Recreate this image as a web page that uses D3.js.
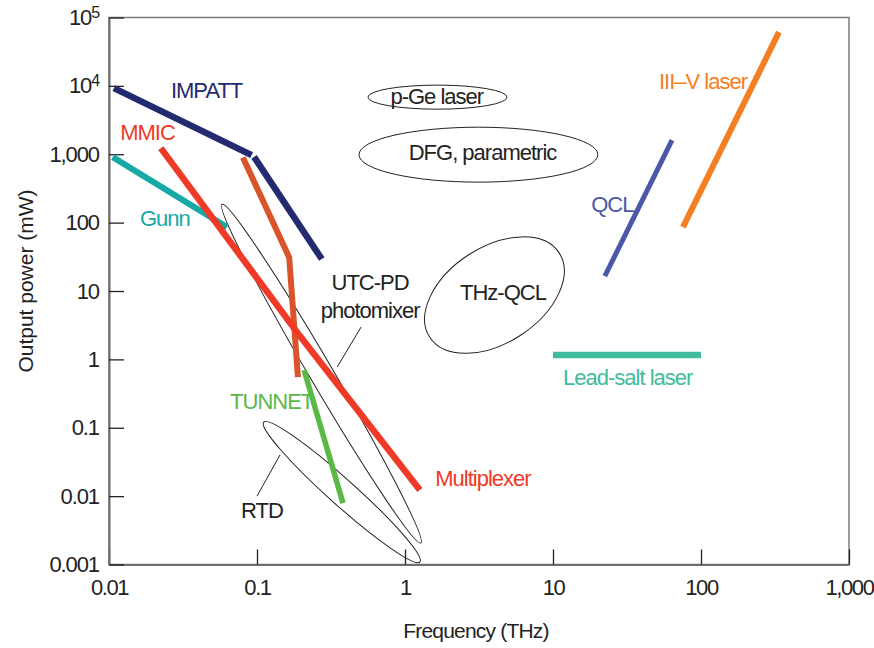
<!DOCTYPE html>
<html>
<head>
<meta charset="utf-8">
<script src="https://cdn.jsdelivr.net/npm/d3@7"></script>
<style>
  body { margin: 0; background: #fff; }
  svg text { font-family: "Liberation Sans", Arial, Helvetica, sans-serif; }
</style>
</head>
<body>
<div id="chart-area"></div>
<script>
// tick values and labels
var xTicks = [0.01, 0.1, 1, 10, 100, 1000]
var xTickLabels = ["0.01", "0.1", "1", "10", "100", "1,000"]
var yTicks = [0.001, 0.01, 0.1, 1, 10, 100, 1000, 1e4, 1e5]
var yTickLabels = ["0.001", "0.01", "0.1", "1", "10", "100", "1,000", "10^4", "10^5"]

// source lines, [frequency THz, power mW]
var impattA = [[0.0108, 9250], [0.092, 970]]
var impattB = [[0.0955, 916], [0.274, 29.3]]
var mmic = [[0.0224, 1228], [0.195, 2.19], [1.26, 0.0123]]
var gunn = [[0.0106, 908], [0.0627, 86]]
var photodiode = [[0.0803, 898], [0.165, 31], [0.189, 0.55]]
var tunnet = [[0.208, 0.698], [0.381, 0.0079]]
var qcl = [[22.4, 16.5], [63.7, 1607]]
var threeFive = [[75.5, 86], [336, 61000]]
var leadSalt = [[10, 1.16], [100, 1.16]]

// regions drawn as ellipses: ends of the long axis + short/long ratio
var regionNames = ["p-Ge", "DFG", "THz-QCL", "UTC-PD", "RTD"]
var regionEnds = [
  [[0.562, 6840], [4.89, 6840]],
  [[0.489, 986], [20.1, 986]],
  [[1.47, 2.10], [11.0, 36.1]],
  [[0.058, 186], [1.28, 0.00206]],
  [[0.111, 0.121], [1.26, 0.00109]]
]
var regionRatio = [0.173, 0.23, 0.62, 0.06, 0.125]

// leader lines
var leaders = [
  [[0.505, 2.97], [0.348, 0.77]],
  [[0.143, 0.040], [0.1, 0.01]]
]

// labels
var labelText = ["IMPATT", "MMIC", "Gunn", "UTC-PD", "photomixer", "p-Ge laser", "DFG, parametric",
  "THz-QCL", "QCL", "III\u2013V laser", "Lead-salt laser", "TUNNET", "Multiplexer", "RTD"]
var labelPos = [[0.0262, 6610], [0.0119, 1607], [0.0162, 89], [0.581, 10.3], [0.581, 4.02],
  [1.64, 5400], [3.34, 820], [4.59, 7.36], [18.1, 142], [52, 8950], [11.7, 0.42],
  [0.0658, 0.1875], [1.6, 0.0141], [0.078, 0.0048]]

var width = 874, height = 648

var svg = d3.select("#chart-area").append("svg")
  .attr("width", width)
  .attr("height", height)

var x = d3.scaleLog().domain([0.01, 1000]).range([109, 849])
var y = d3.scaleLog().domain([0.001, 1e5]).range([564.5, 17.5])

// frame
svg.append("rect")
  .attr("x", 109).attr("y", 17.5)
  .attr("width", 740).attr("height", 547)
  .attr("fill", "none")
  .attr("stroke", "#7a7a7a")
  .attr("stroke-width", 1.5)

// axes
var xAxis = d3.axisBottom(x)
  .tickValues(xTicks)
  .tickFormat(function (d, i) { return xTickLabels[i] })
  .tickSizeInner(-15).tickSizeOuter(0).tickPadding(15)

var yAxis = d3.axisLeft(y)
  .tickValues(yTicks)
  .tickFormat(function (d, i) { return yTickLabels[i] })
  .tickSizeInner(-15).tickSizeOuter(0).tickPadding(10)

var gx = svg.append("g").attr("transform", "translate(0,564.5)").call(xAxis)
var gy = svg.append("g").attr("transform", "translate(109,0)").call(yAxis)

;[gx, gy].forEach(function (g) {
  g.select(".domain").attr("stroke", "#6f6f6f").attr("stroke-width", 2)
  g.selectAll(".tick line").attr("stroke", "#222").attr("stroke-width", 1.3)
  g.selectAll(".tick text")
    .attr("fill", "#222")
    .style("font-size", "22px")
    .style("letter-spacing", "-1.1px")
    .style("font-family", "'Liberation Sans', Arial, sans-serif")
})
gx.selectAll(".tick text").style("letter-spacing", "-1.4px")

// superscript labels
gy.selectAll(".tick text").each(function () {
  var t = d3.select(this)
  var s = t.text()
  if (s.indexOf("^") >= 0) {
    var parts = s.split("^")
    t.text("")
    t.append("tspan").text(parts[0])
    t.append("tspan").text(parts[1])
      .attr("dy", "-0.45em")
      .style("font-size", "16px")
  }
})

// axis titles
svg.append("text")
  .attr("x", 476).attr("y", 638)
  .attr("text-anchor", "middle")
  .attr("fill", "#222")
  .style("font-size", "21px")
  .style("letter-spacing", "-0.8px")
  .text("Frequency (THz)")

svg.append("text")
  .attr("transform", "translate(33,281) rotate(-90)")
  .attr("text-anchor", "middle")
  .attr("fill", "#222")
  .style("font-size", "21px")
  .style("letter-spacing", "0px")
  .text("Output power (mW)")

// ellipses
regionEnds.forEach(function (e, i) {
  var x1 = x(e[0][0]), y1 = y(e[0][1])
  var x2 = x(e[1][0]), y2 = y(e[1][1])
  var a = Math.hypot(x2 - x1, y2 - y1) / 2
  var ang = Math.atan2(y2 - y1, x2 - x1) * 180 / Math.PI
  svg.append("ellipse")
    .attr("class", "region " + regionNames[i])
    .attr("cx", 0).attr("cy", 0)
    .attr("rx", a).attr("ry", a * regionRatio[i])
    .attr("transform", "translate(" + (x1 + x2) / 2 + "," + (y1 + y2) / 2 + ") rotate(" + ang + ")")
    .attr("fill", "none")
    .attr("stroke", "#222")
    .attr("stroke-width", 1)
})

svg.selectAll(".leader")
  .data(leaders)
  .enter()
  .append("line")
  .attr("x1", function (d) { return x(d[0][0]) })
  .attr("y1", function (d) { return y(d[0][1]) })
  .attr("x2", function (d) { return x(d[1][0]) })
  .attr("y2", function (d) { return y(d[1][1]) })
  .attr("stroke", "#222")
  .attr("stroke-width", 1)

// source lines
var line = d3.line()
  .x(function (d) { return x(d[0]) })
  .y(function (d) { return y(d[1]) })

var series = [gunn, photodiode, impattA, impattB, mmic, tunnet, qcl, threeFive, leadSalt]
var seriesColor = ["#16a9a6", "#d9542b", "#232a6f", "#232a6f", "#ee3a27", "#5ab946", "#4b58a8", "#f47e22", "#41bc9c"]
var seriesWidth = [6, 6, 6.5, 6.5, 6.5, 5.5, 5, 6, 6.5]

svg.selectAll(".src")
  .data(series)
  .enter()
  .append("path")
  .attr("class", "src")
  .attr("d", line)
  .attr("fill", "none")
  .attr("stroke", function (d, i) { return seriesColor[i] })
  .attr("stroke-width", function (d, i) { return seriesWidth[i] })
  .attr("stroke-linejoin", "miter")

// labels
var labelColor = ["#232a6f", "#ee3a27", "#16a9a6", "#222", "#222", "#222", "#222",
  "#222", "#4b58a8", "#f47e22", "#41bc9c", "#5ab946", "#ee3a27", "#222"]
var labelAnchor = ["start", "start", "start", "middle", "middle", "middle", "middle",
  "middle", "start", "start", "start", "start", "start", "start"]

svg.selectAll(".lbl")
  .data(labelText)
  .enter()
  .append("text")
  .attr("class", "lbl")
  .attr("x", function (d, i) { return x(labelPos[i][0]) })
  .attr("y", function (d, i) { return y(labelPos[i][1]) })
  .attr("text-anchor", function (d, i) { return labelAnchor[i] })
  .attr("fill", function (d, i) { return labelColor[i] })
  .style("font-size", "22px")
  .style("letter-spacing", "-1px")
  .text(function (d) { return d })
</script>
</body>
</html>
